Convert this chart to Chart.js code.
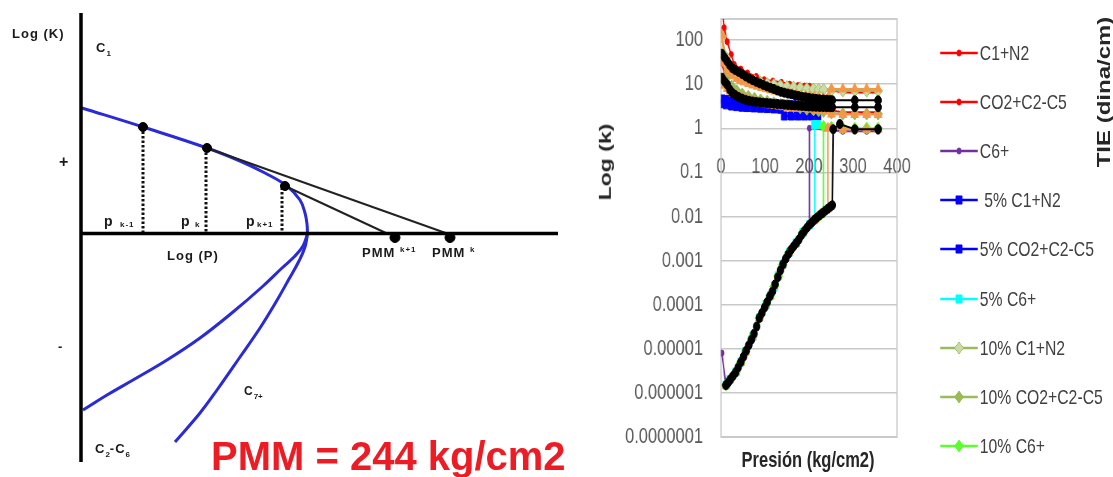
<!DOCTYPE html>
<html><head><meta charset="utf-8">
<script src="https://cdn.jsdelivr.net/npm/chart.js@4.4.1/dist/chart.umd.min.js"></script>
<style>
html,body{margin:0;padding:0;background:#fff;}
body{width:1113px;height:477px;overflow:hidden;position:relative;font-family:'Liberation Sans',Arial,sans-serif;}
#leftCanvas{position:absolute;left:0;top:0;}
#right{position:absolute;left:590px;top:0;width:698px;height:477px;transform:scaleX(0.75);transform-origin:0 0;}
#rightCanvas{position:absolute;left:0;top:0;}
.lbl{position:absolute;font-weight:bold;font-size:13px;line-height:1;color:#1a1a1a;white-space:nowrap;letter-spacing:1px;}
.s{font-size:8px;letter-spacing:0;position:relative;top:4px;}
.sup{font-size:8px;letter-spacing:1px;}
#pmm{position:absolute;left:211px;top:436px;font:bold 40px 'Liberation Sans',Arial,sans-serif;line-height:1;color:#ed1c24;white-space:nowrap;}
.rt{position:absolute;font-weight:bold;white-space:nowrap;line-height:1;color:#262626;}
.row{position:absolute;left:466.7px;height:24px;display:flex;align-items:center;}
.row span{font-size:21px;color:#404040;white-space:pre;margin-left:3px;line-height:24px;}
</style></head>
<body>
<canvas id="leftCanvas" width="590" height="477"></canvas>

<div class="lbl" style="left:12px;top:27px">Log (K)</div>
<div class="lbl" style="left:96px;top:41px">C<span class="s">1</span></div>
<div class="lbl" style="left:59px;top:154px;font-size:16px">+</div>
<div class="lbl" style="left:58px;top:340px">-</div>
<div class="lbl" style="left:104px;top:214px;font-size:14px">p</div>
<div class="lbl sup" style="left:120px;top:221px">k-1</div>
<div class="lbl" style="left:181px;top:214px;font-size:14px">p</div>
<div class="lbl sup" style="left:195px;top:221px">k</div>
<div class="lbl" style="left:246px;top:214px;font-size:14px">p</div>
<div class="lbl sup" style="left:257px;top:221px">k+1</div>
<div class="lbl" style="left:167px;top:249px">Log (P)</div>
<div class="lbl" style="left:362px;top:246px">PMM</div>
<div class="lbl sup" style="left:400px;top:246px">k+1</div>
<div class="lbl" style="left:432px;top:246px">PMM</div>
<div class="lbl sup" style="left:470px;top:246px">k</div>
<div class="lbl" style="left:244px;top:385px;font-size:12px">C<span class="s">7+</span></div>
<div class="lbl" style="left:95px;top:442px">C<span class="s">2</span>-C<span class="s">6</span></div>
<div id="pmm">PMM = 244 kg/cm2</div>

<div id="right">
  <canvas id="rightCanvas" width="430" height="477"></canvas>
  <div id="legend"></div>
  <div class="rt" id="ytitle" style="left:20px;top:162px;font-size:23px;transform:translate(-50%,-50%) rotate(-90deg);">Log (k)</div>
  <div class="rt" id="xtitle" style="left:290.7px;top:460px;font-size:22px;transform:translate(-50%,-50%);">Presión (kg/cm2)</div>
  <div class="rt" id="tie" style="left:685px;top:92px;font-size:24px;transform:translate(-50%,-50%) rotate(-90deg);">TIE (dina/cm)</div>
</div>

<script>
// ================= RIGHT CHART DATA (pressure kg/cm2, K values) =================
const xTicks = [0, 100, 200, 300, 400];
const yTicks = [0.0000001, 0.000001, 0.00001, 0.0001, 0.001, 0.01, 0.1, 1, 10, 100];
const yTickLabels = ['0.0000001', '0.000001', '0.00001', '0.0001', '0.001', '0.01', '0.1', '1', '10', '100'];

const seriesNames = ['C1+N2', 'CO2+C2-C5', 'C6+', ' 5% C1+N2', '5% CO2+C2-C5', '5% C6+',
  '10% C1+N2', '10% CO2+C2-C5', '10% C6+', '15% C1+N2', '15% CO2+C2-C5', '15% C6+',
  '20% C1+N2', '20% CO2+C2-C5', '20% C6+'];

// 0 %
const p0_c1 = [2, 7, 14, 23, 30, 45, 60, 80, 98, 118, 137, 156, 175, 190, 201, 277, 304, 331, 357];
const k0_c1 = [600, 190, 92, 47, 28, 22, 18, 15, 12.6, 11.8, 11, 10, 9.3, 9.1, 9, 6.5, 6.5, 6.5, 6.5];
const p0_c2 = [2, 14, 30, 45, 60, 80, 98, 118, 137, 156, 175, 190, 201, 277, 304, 331, 357];
const k0_c2 = [30, 9, 6.5, 5.5, 4.9, 4.4, 4, 3.8, 3.6, 3.4, 3.2, 3.1, 3.0, 2.3, 2.3, 2.3, 2.3];
const p0_c6 = [2, 11, 20, 34, 45, 56, 72, 87, 102, 112, 121, 130, 140, 155, 171, 186, 201, 201, 277, 304, 331, 357];
const k0_c6 = [8e-6, 1.5e-6, 2e-6, 3e-6, 5e-6, 8.7e-6, 1.9e-5, 5e-5, 1e-4, 1.6e-4, 2.6e-4, 4.5e-4, 8e-4, 1.55e-3, 2.5e-3, 4.3e-3, 6.5e-3, 1.0, 0.85, 0.85, 0.85, 0.85];
// 5 %
const p5_c1 = [2, 12, 24, 36, 48, 60, 75, 90, 105, 120, 135, 150, 165, 180, 195, 210, 220];
const k5_c1 = [4.6, 4.5, 4.4, 4.3, 4.2, 4.1, 4.0, 3.9, 3.8, 3.7, 3.6, 3.5, 3.4, 3.3, 3.2, 3.1, 3.0];
const p5_c2 = [2, 12, 24, 36, 48, 60, 75, 90, 105, 120, 135, 144, 160, 175, 190, 205, 220];
const k5_c2 = [3.6, 3.4, 3.2, 3.1, 3.0, 2.95, 2.9, 2.85, 2.8, 2.75, 2.7, 1.9, 1.9, 1.9, 1.9, 1.9, 1.9];
const p5_c6 = [11, 20, 34, 45, 56, 72, 87, 102, 112, 121, 130, 140, 155, 171, 186, 201, 213, 213, 220];
const k5_c6 = [1.5e-6, 2e-6, 3e-6, 5e-6, 8.7e-6, 1.9e-5, 5e-5, 1e-4, 1.6e-4, 2.6e-4, 4.5e-4, 8e-4, 1.55e-3, 2.5e-3, 4.3e-3, 6.5e-3, 8.5e-3, 1.2, 1.2];
// 10 %
const p10_c1 = [2, 12, 24, 36, 48, 62, 76, 90, 105, 120, 135, 150, 165, 180, 195, 210, 222, 233, 251, 277, 304, 331, 357];
const k10_c1 = [120, 40, 24, 18, 15, 13, 12, 11, 10.3, 9.8, 9.3, 8.9, 8.6, 8.3, 8.0, 7.8, 7.6, 7.5, 7.3, 7.0, 7.0, 7.0, 7.0];
const p10_c2 = [2, 12, 24, 36, 48, 62, 76, 90, 105, 120, 135, 150, 165, 180, 195, 210, 222, 233, 251, 277, 304, 331, 357];
const k10_c2 = [40, 14, 9, 7, 6, 5.3, 4.8, 4.4, 4.1, 3.8, 3.5, 3.3, 3.1, 2.9, 2.7, 2.6, 2.5, 2.4, 2.2, 2.1, 2.1, 2.1, 2.1];
const p10_c6 = [11, 20, 34, 45, 56, 72, 87, 102, 112, 121, 130, 140, 155, 171, 186, 201, 213, 226, 233, 233, 251, 277, 304, 331, 357];
const k10_c6 = [1.5e-6, 2e-6, 3e-6, 5e-6, 8.7e-6, 1.9e-5, 5e-5, 1e-4, 1.6e-4, 2.6e-4, 4.5e-4, 8e-4, 1.55e-3, 2.5e-3, 4.3e-3, 6.5e-3, 8.5e-3, 1.1e-2, 1.25e-2, 1.1, 1.05, 1.0, 1.0, 1.0, 1.0];
// 15 %
const p15_c1 = [2, 8, 14, 20, 28, 36, 44, 52, 62, 72, 82, 92, 102, 112, 122, 132, 142, 152, 162, 172, 182, 192, 202, 212, 222, 232, 243, 251, 277, 304, 331, 357];
const k15_c1 = [130, 30, 22, 18, 15.5, 13.5, 12.3, 11.3, 10.4, 9.6, 9, 8.4, 7.9, 7.4, 7, 6.7, 6.4, 6.1, 5.9, 5.7, 5.5, 5.35, 5.2, 5.1, 5.0, 4.9, 4.85, 7.8, 7.8, 7.8, 7.8, 7.8];
const p15_c2 = [2, 8, 14, 20, 28, 36, 44, 52, 62, 72, 82, 92, 102, 112, 122, 132, 142, 152, 162, 172, 182, 192, 202, 212, 222, 232, 243, 251, 277, 304, 331, 357];
const k15_c2 = [12, 9.5, 8, 7, 6.2, 5.6, 5.1, 4.7, 4.4, 4.1, 3.9, 3.7, 3.55, 3.4, 3.3, 3.2, 3.1, 3.0, 2.95, 2.9, 2.85, 2.8, 2.75, 2.7, 2.6, 2.55, 2.45, 2.1, 2.05, 2.05, 2.05, 2.05];
const p15_c6 = [11, 20, 34, 45, 56, 72, 87, 102, 112, 121, 130, 140, 155, 171, 186, 201, 213, 226, 239, 243, 243, 251, 277, 304, 331, 357];
const k15_c6 = [1.5e-6, 2e-6, 3e-6, 5e-6, 8.7e-6, 1.9e-5, 5e-5, 1e-4, 1.6e-4, 2.6e-4, 4.5e-4, 8e-4, 1.55e-3, 2.5e-3, 4.3e-3, 6.5e-3, 8.5e-3, 1.1e-2, 1.4e-2, 1.5e-2, 1.0, 1.0, 0.95, 0.95, 0.95, 0.95];
// 20 %
const p20_c1 = [2, 8, 14, 20, 26, 32, 40, 48, 56, 64, 72, 80, 88, 96, 104, 112, 120, 128, 136, 144, 152, 160, 168, 176, 184, 192, 200, 208, 216, 224, 232, 240, 248, 253, 304, 357];
const k20_c1 = [49, 40, 33, 27, 23, 21, 19, 17, 15, 13.5, 12.3, 11.3, 10.4, 9.6, 8.9, 8.3, 7.8, 7.2, 6.7, 6.4, 6.1, 5.9, 5.6, 5.4, 5.2, 5.05, 4.9, 4.75, 4.65, 4.55, 4.5, 4.45, 4.35, 4.3, 4.3, 4.3];
const p20_c2 = [2, 8, 14, 20, 26, 32, 40, 48, 56, 64, 72, 80, 88, 96, 104, 112, 120, 128, 136, 144, 152, 160, 168, 176, 184, 192, 200, 208, 216, 224, 232, 240, 248, 253, 304, 357];
const k20_c2 = [14, 11.5, 9.8, 7.5, 6.3, 5.7, 5.1, 4.7, 4.4, 4.2, 4.05, 3.95, 3.87, 3.8, 3.72, 3.66, 3.6, 3.53, 3.47, 3.42, 3.37, 3.33, 3.29, 3.25, 3.2, 3.16, 3.12, 3.09, 3.06, 3.04, 3.02, 3.01, 3.0, 3.0, 3.0, 3.0];
const p20_c6 = [11, 16, 21, 27, 33, 39, 45, 51, 57, 63, 69, 75, 81, 87, 93, 99, 105, 111, 117, 123, 129, 135, 141, 147, 153, 159, 165, 171, 177, 183, 189, 195, 201, 207, 213, 219, 225, 231, 237, 243, 249, 253, 255, 270, 304, 357];
const k20_c6 = [1.5e-6, 1.7e-6, 2.0e-6, 2.4e-6, 2.9e-6, 3.8e-6, 5.0e-6, 6.6e-6, 9.0e-6, 1.2e-5, 1.6e-5, 2.2e-5, 3.2e-5, 5.0e-5, 6.5e-5, 8.6e-5, 1.15e-4, 1.55e-4, 2.0e-4, 2.9e-4, 4.2e-4, 6.0e-4, 8.3e-4, 1.1e-3, 1.4e-3, 1.75e-3, 2.1e-3, 2.5e-3, 3.0e-3, 3.8e-3, 4.6e-3, 5.5e-3, 6.5e-3, 7.4e-3, 8.5e-3, 9.6e-3, 1.08e-2, 1.2e-2, 1.35e-2, 1.5e-2, 1.68e-2, 1.8e-2, 0.95, 1.25, 0.95, 0.95];

// ================= LEFT DIAGRAM DATA (schematic units: Log P, Log K) =================
const diagAxisV = [[0, 2.205], [0, -2.285]];
const diagAxisH = [[0, 0], [4.77, 0]];
const curveC1 = [[0.01, 1.255], [0.62, 1.065], [1.26, 0.855], [1.59, 0.725], [1.84, 0.605], [2.06, 0.475], [2.19, 0.335], [2.24, 0.205], [2.26, 0.095], [2.265, -0.005]];
const curveC2C6 = [[2.265, -0.005], [2.22, -0.125], [2.14, -0.225], [2.01, -0.345], [1.81, -0.535], [1.52, -0.785], [1.19, -1.045], [0.86, -1.265], [0.52, -1.465], [0.26, -1.615], [0.02, -1.765]];
const curveC7 = [[2.265, -0.005], [2.24, -0.135], [2.18, -0.275], [2.08, -0.455], [1.95, -0.685], [1.79, -0.945], [1.59, -1.235], [1.36, -1.565], [1.19, -1.795], [0.94, -2.085]];
const dropKm1 = [[0.62, 1.065], [0.62, 0]];
const dropK = [[1.25, 0.855], [1.25, 0]];
const dropKp1 = [[2.01, 0.46], [2.01, 0]];
const tangentK = [[1.26, 0.855], [3.66, 0]];
const tangentKp1 = [[2.04, 0.475], [3.06, 0]];
const curveDots = [[0.62, 1.065], [1.26, 0.855], [2.04, 0.475]];
const pmmDots = [[3.14, -0.04], [3.69, -0.04]];

// ================= STYLES =================
const FONT = "'Liberation Sans', Arial, sans-serif";
const seriesStyles = [
  {c: '#ff0000', f: '#ff0000', s: 'circle', r: 3},
  {c: '#ff0000', f: '#ff0000', s: 'circle', r: 3},
  {c: '#7030a0', f: '#7030a0', s: 'circle', r: 3},
  {c: '#0000ff', f: '#0000ff', s: 'rect', r: 5.7},
  {c: '#0000ff', f: '#0000ff', s: 'rect', r: 5.7},
  {c: '#00ffff', f: '#00ffff', s: 'rect', r: 5.7},
  {c: '#9bbb59', f: '#c9dba6', s: 'rectRot', r: 6},
  {c: '#9bbb59', f: '#9bbb59', s: 'rectRot', r: 6},
  {c: '#5cff2e', f: '#5cff2e', s: 'rectRot', r: 6},
  {c: '#f79646', f: '#f79646', s: 'triangle', r: 6},
  {c: '#f79646', f: '#f79646', s: 'triangle', r: 6},
  {c: '#f79646', f: '#f79646', s: 'triangle', r: 6},
  {c: '#000000', f: '#000000', s: 'circle', r: 4.5},
  {c: '#000000', f: '#000000', s: 'circle', r: 4.5},
  {c: '#000000', f: '#000000', s: 'circle', r: 4.5}
];
const legendCount = 9;

const seriesData = [
  [p0_c1, k0_c1], [p0_c2, k0_c2], [p0_c6, k0_c6],
  [p5_c1, k5_c1], [p5_c2, k5_c2], [p5_c6, k5_c6],
  [p10_c1, k10_c1], [p10_c2, k10_c2], [p10_c6, k10_c6],
  [p15_c1, k15_c1], [p15_c2, k15_c2], [p15_c6, k15_c6],
  [p20_c1, k20_c1], [p20_c2, k20_c2], [p20_c6, k20_c6]
];

const N = seriesData.length;
const rightDatasets = seriesData.map(([P, K], i) => {
  const st = seriesStyles[i];
  return {
    label: seriesNames[i],
    data: P.map((p, j) => ({x: p, y: K[j]})),
    showLine: true,
    borderColor: st.c,
    backgroundColor: st.f,
    pointBackgroundColor: st.f,
    pointBorderColor: st.c,
    pointStyle: st.s,
    pointRadius: st.r,
    pointBorderWidth: 1,
    borderWidth: 2,
    tension: 0,
    order: N - i
  };
});

const plotBorder = {
  id: 'plotBorder',
  beforeDatasetsDraw(chart) {
    const {ctx, chartArea: a} = chart;
    ctx.save();
    ctx.strokeStyle = '#c8c8c8';
    ctx.lineWidth = 1.8;
    ctx.strokeRect(a.left, a.top, a.right - a.left, a.bottom - a.top);
    ctx.restore();
  }
};

function fmtY(v) {
  for (let i = 0; i < yTicks.length; i++) {
    if (Math.abs(v - yTicks[i]) / yTicks[i] < 1e-6) return yTickLabels[i];
  }
  return '';
}

const CLEAR = 'rgba(0,0,0,0)';
const rightChart = new Chart(document.getElementById('rightCanvas'), {
  type: 'scatter',
  data: {datasets: rightDatasets},
  options: {
    responsive: false,
    animation: false,
    events: [],
    layout: {autoPadding: false, padding: {left: 0, right: 20.7, top: 19, bottom: 40}},
    plugins: {legend: {display: false}, tooltip: {enabled: false}},
    scales: {
      x: {
        type: 'linear', min: 0, max: 400,
        position: {y: 1},
        grid: {display: true, color: CLEAR, drawTicks: true, tickLength: 25, tickColor: CLEAR},
        border: {display: false},
        afterBuildTicks: s => { s.ticks = xTicks.map(v => ({value: v})); },
        ticks: {font: {family: FONT, size: 22}, color: '#595959', padding: 0, maxRotation: 0, autoSkip: false}
      },
      y: {
        type: 'logarithmic', min: 1e-7, max: 300,
        grid: {color: '#c8c8c8', lineWidth: 1.5, drawTicks: true, tickLength: 24, tickColor: CLEAR},
        border: {display: false},
        afterBuildTicks: s => { s.ticks = yTicks.map(v => ({value: v})); },
        afterFit: s => { s.width = 174.7; },
        ticks: {font: {family: FONT, size: 22}, color: '#595959', padding: 0, autoSkip: false, callback: v => fmtY(v)}
      }
    }
  },
  plugins: [plotBorder]
});

// HTML legend built from the chart's datasets
(function buildLegend() {
  const box = document.getElementById('legend');
  rightChart.data.datasets.slice(0, legendCount).forEach((ds, i) => {
    const row = document.createElement('div');
    row.className = 'row';
    row.style.top = (41 + i * 49.1) + 'px';
    const cv = document.createElement('canvas');
    cv.width = 50; cv.height = 24;
    const ctx = cv.getContext('2d');
    ctx.strokeStyle = ds.borderColor;
    ctx.lineWidth = 2.5;
    ctx.beginPath(); ctx.moveTo(0, 12); ctx.lineTo(50, 12); ctx.stroke();
    ctx.fillStyle = ds.pointBackgroundColor;
    ctx.strokeStyle = ds.pointBorderColor;
    ctx.lineWidth = 1;
    const opts = {pointStyle: ds.pointStyle, radius: ds.pointRadius, rotation: 0, borderWidth: 1};
    if (Chart.helpers && Chart.helpers.drawPoint) {
      Chart.helpers.drawPoint(ctx, opts, 25, 12);
    } else {
      ctx.beginPath(); ctx.arc(25, 12, ds.pointRadius, 0, Math.PI * 2); ctx.fill();
    }
    const sp = document.createElement('span');
    sp.textContent = ds.label;
    row.appendChild(cv); row.appendChild(sp);
    box.appendChild(row);
  });
})();

// ================= LEFT DIAGRAM =================
const toXY = arr => arr.map(([x, y]) => ({x, y}));
function diagLine(pts, color, width, dash, tension) {
  return {data: toXY(pts), showLine: true, borderColor: color, borderWidth: width,
    borderDash: dash || [], pointRadius: 0, tension: tension || 0, borderCapStyle: 'butt'};
}
const BLUE = '#2a2ad6';
new Chart(document.getElementById('leftCanvas'), {
  type: 'scatter',
  data: {
    datasets: [
      diagLine(diagAxisV, '#000', 3.5),
      diagLine(diagAxisH, '#000', 3.5),
      diagLine(dropKm1, '#111', 3, [2.5, 2]),
      diagLine(dropK, '#111', 3, [2.5, 2]),
      diagLine(dropKp1, '#111', 3, [2.5, 2]),
      diagLine(tangentK, '#222', 2),
      diagLine(tangentKp1, '#222', 2),
      diagLine(curveC1, BLUE, 3, null, 0.4),
      diagLine(curveC2C6, BLUE, 3, null, 0.4),
      diagLine(curveC7, BLUE, 3, null, 0.4),
      {data: toXY(curveDots), showLine: false, pointRadius: 4.5, pointBackgroundColor: '#000', pointBorderColor: '#000', order: -1},
      {data: toXY(pmmDots), showLine: false, pointRadius: 5, pointBackgroundColor: '#000', pointBorderColor: '#000', order: -1}
    ]
  },
  options: {
    responsive: false, animation: false, events: [],
    layout: {autoPadding: false, padding: 0},
    plugins: {legend: {display: false}, tooltip: {enabled: false}},
    scales: {
      x: {type: 'linear', display: false, min: -0.81, max: 5.09},
      y: {type: 'linear', display: false, min: -2.435, max: 2.335}
    }
  }
});
</script>
</body></html>
